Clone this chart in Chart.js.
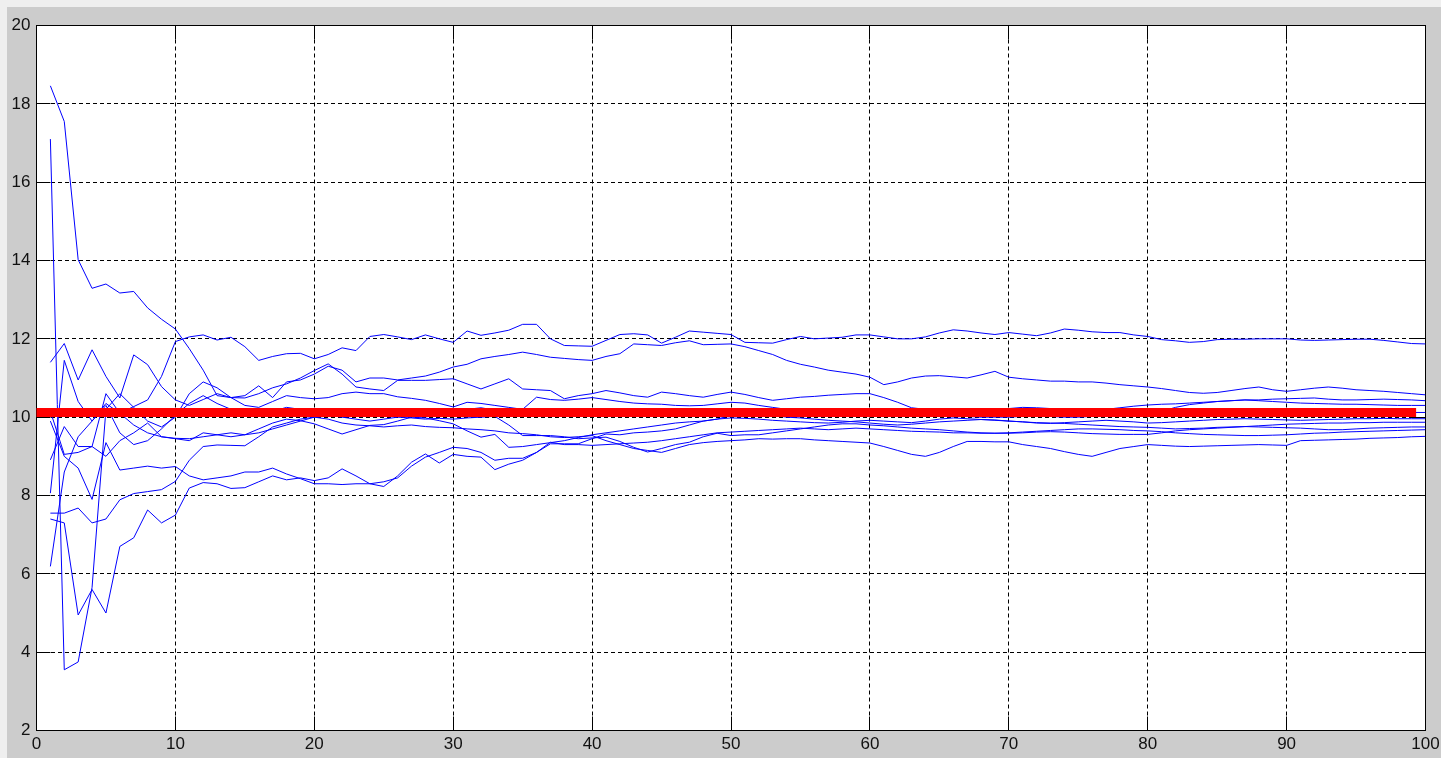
<!DOCTYPE html>
<html>
<head>
<meta charset="utf-8">
<title>Running means of ten sample paths</title>
<script src="https://cdn.jsdelivr.net/npm/chart.js@4.4.1/dist/chart.umd.min.js"></script>
<style>
  html, body { margin: 0; padding: 0; background: #cccccc; overflow: hidden; }
  canvas { display: block; }
</style>
</head>
<body>
<canvas id="c" width="1441" height="758"></canvas>
<script>
// Axis ticks
const xTicks = [0, 10, 20, 30, 40, 50, 60, 70, 80, 90, 100];
const yTicks = [2, 4, 6, 8, 10, 12, 14, 16, 18, 20];

// Running mean of each path, samples 1..100
const run01 = [
  6.19, 8.6, 9.5, 9.9, 10.35, 10.1, 10.27, 10.44, 11.04, 11.93,
  12.05, 12.1, 11.97, 12.04, 11.8, 11.45, 11.55, 11.62, 11.63, 11.49,
  11.6, 11.77, 11.7, 12.06, 12.11, 12.05, 11.98, 12.1, 12.0, 11.91,
  12.2, 12.09, 12.15, 12.22, 12.37, 12.37, 12.0, 11.83, 11.82, 11.81,
  11.96, 12.11, 12.13, 12.1, 11.89, 12.04, 12.2, 12.17, 12.14, 12.11,
  11.91, 11.9, 11.89, 11.98, 12.06, 12.0, 12.02, 12.04, 12.1, 12.1,
  12.05, 12.0, 12.0, 12.05, 12.15, 12.23, 12.2, 12.15, 12.11, 12.16,
  12.12, 12.08, 12.15, 12.25, 12.22, 12.18, 12.16, 12.16, 12.1, 12.06,
  11.98, 11.95, 11.91, 11.93, 11.98, 11.99, 11.99, 12.0, 12.0, 12.0,
  11.97, 11.96, 11.97, 11.98, 11.99, 11.99, 11.96, 11.92, 11.88, 11.87
];
const run02 = [
  18.46, 17.55, 14.02, 13.29, 13.4, 13.17, 13.21, 12.79, 12.5, 12.25,
  11.75, 11.2, 10.55, 10.5, 10.55, 10.8, 10.5, 10.9, 10.95, 11.1,
  11.3, 11.2, 10.9, 11.0, 11.0, 10.95, 11.0, 11.05, 11.15, 11.28,
  11.35, 11.49, 11.55, 11.6, 11.66, 11.6, 11.53, 11.5, 11.47, 11.45,
  11.55, 11.62, 11.87, 11.85, 11.83, 11.9, 11.95, 11.85, 11.86, 11.87,
  11.8, 11.7, 11.6, 11.45, 11.35, 11.28, 11.2, 11.15, 11.1, 11.02,
  10.83, 10.9, 11.0, 11.05, 11.06, 11.03, 11.0, 11.08, 11.17, 11.02,
  10.98, 10.95, 10.92, 10.92, 10.9, 10.9, 10.87, 10.83, 10.8, 10.77,
  10.73, 10.68, 10.63, 10.61, 10.63, 10.68, 10.73, 10.77, 10.7, 10.66,
  10.7, 10.74, 10.77, 10.74, 10.7, 10.68, 10.66, 10.63, 10.6, 10.57
];
const run03 = [
  11.4, 11.88, 10.95, 11.72, 11.04, 10.49, 11.59, 11.34, 10.78, 10.44,
  10.3, 10.45, 10.6, 10.5, 10.49, 10.6, 10.75, 10.85, 11.0, 11.19,
  11.36, 11.1, 10.77, 10.72, 10.68, 10.94, 10.94, 10.94, 10.96, 10.98,
  10.85, 10.72, 10.85, 10.98, 10.72, 10.7, 10.68, 10.47, 10.55, 10.6,
  10.68, 10.62, 10.55, 10.51, 10.64, 10.6, 10.55, 10.51, 10.58, 10.64,
  10.58, 10.5, 10.43, 10.47, 10.51, 10.53, 10.56, 10.58, 10.6, 10.6,
  10.5, 10.38, 10.24, 10.2, 10.15, 10.12, 10.1, 10.08, 10.06, 10.05,
  10.06, 10.04, 10.02, 10.0, 10.0, 10.02, 10.04, 10.05, 10.07, 10.08,
  10.15, 10.25, 10.32, 10.36, 10.4, 10.42, 10.44, 10.44, 10.46, 10.47,
  10.48, 10.49, 10.46, 10.44, 10.44, 10.45, 10.46, 10.45, 10.44, 10.42
];
const run04 = [
  17.1, 3.55, 3.75, 5.65, 10.2, 10.6, 10.25, 9.9, 9.75, 10.0,
  10.6, 10.9, 10.75, 10.5, 10.3, 10.25, 10.4, 10.55, 10.5, 10.47,
  10.5, 10.6, 10.64, 10.6, 10.6, 10.52, 10.48, 10.43, 10.35, 10.26,
  10.38, 10.35, 10.3, 10.25, 10.2, 10.51, 10.45, 10.43, 10.46, 10.5,
  10.45, 10.4, 10.36, 10.34, 10.33, 10.3, 10.29, 10.3, 10.34, 10.38,
  10.36, 10.3, 10.25, 10.2, 10.18, 10.2, 10.22, 10.2, 10.18, 10.15,
  10.12, 10.1, 10.08, 10.05, 10.04, 10.06, 10.08, 10.12, 10.18, 10.22,
  10.25, 10.24, 10.22, 10.2, 10.19, 10.18, 10.2, 10.24, 10.28, 10.31,
  10.33, 10.34, 10.36, 10.38, 10.4, 10.42, 10.44, 10.42, 10.4, 10.38,
  10.36, 10.35, 10.34, 10.33, 10.33, 10.32, 10.31, 10.3, 10.3, 10.3
];
const run05 = [
  8.06, 11.45, 10.4, 9.9, 10.3, 9.6, 9.3, 9.4, 9.7, 10.05,
  10.35, 10.55, 10.35, 10.2, 10.1, 10.05, 10.15, 10.25, 10.2, 10.1,
  10.05, 10.1, 10.15, 10.2, 10.22, 10.18, 10.15, 10.12, 10.14, 10.15,
  10.2, 10.24, 10.18, 10.12, 10.08, 10.05, 10.03, 10.05, 10.04, 10.05,
  10.08, 10.1, 10.12, 10.1, 10.08, 10.06, 10.05, 10.08, 10.1, 10.1,
  10.12, 10.15, 10.18, 10.2, 10.22, 10.2, 10.18, 10.17, 10.16, 10.15,
  10.12, 10.1, 10.08, 10.06, 10.05, 10.04, 10.02, 10.0, 10.0, 10.0,
  10.02, 10.03, 10.05, 10.04, 10.03, 10.02, 10.03, 10.04, 10.05, 10.05,
  10.06, 10.07, 10.08, 10.09, 10.1, 10.12, 10.14, 10.13, 10.12, 10.1,
  10.1, 10.11, 10.12, 10.13, 10.14, 10.13, 10.12, 10.12, 10.12, 10.12
];
const run06 = [
  8.91, 9.76, 9.25, 9.25, 9.0, 9.4, 9.6, 9.85, 9.5, 9.45,
  9.4, 9.6, 9.55, 9.5, 9.55, 9.7, 9.85, 9.95, 9.91, 9.83,
  9.7, 9.57, 9.68, 9.79, 9.81, 9.9, 10.0, 9.98, 9.91, 9.83,
  9.65, 9.49, 9.56, 9.23, 9.25, 9.3, 9.35, 9.4, 9.48, 9.55,
  9.6, 9.65, 9.7, 9.75, 9.8, 9.85, 9.88, 9.9, 9.95, 9.98,
  9.97, 9.95, 9.92, 9.9, 9.88, 9.86, 9.85, 9.87, 9.9, 9.92,
  9.9, 9.88, 9.86, 9.9, 9.95, 9.98, 9.96, 9.94, 9.92, 9.9,
  9.88, 9.85, 9.84, 9.86, 9.88, 9.9, 9.92, 9.9, 9.88, 9.85,
  9.86, 9.88, 9.9, 9.92, 9.94, 9.95, 9.96, 9.95, 9.94, 9.93,
  9.92, 9.93, 9.94, 9.95, 9.96, 9.96, 9.97, 9.96, 9.96, 9.96
];
const run07 = [
  7.55, 7.55, 7.68, 7.3, 7.4, 7.89, 8.05, 8.1, 8.15, 8.36,
  8.9, 9.25, 9.29, 9.28, 9.27, 9.5, 9.75, 9.85, 9.95, 10.0,
  10.05, 10.0, 9.95, 9.9, 9.95, 10.0, 9.98, 9.95, 9.97, 9.95,
  9.98, 10.0, 10.02, 9.8, 9.53, 9.53, 9.53, 9.5, 9.45, 9.47,
  9.49, 9.38, 9.23, 9.11, 9.2, 9.3, 9.36, 9.5, 9.59, 9.53,
  9.55, 9.55, 9.6, 9.65, 9.7, 9.75, 9.8, 9.83, 9.83, 9.8,
  9.78, 9.75, 9.72, 9.7, 9.68, 9.65, 9.62, 9.6, 9.59, 9.59,
  9.6, 9.62, 9.63, 9.62, 9.6, 9.58, 9.57, 9.56, 9.56, 9.56,
  9.6, 9.65, 9.68, 9.7, 9.72, 9.74, 9.76, 9.78, 9.8, 9.82,
  9.83, 9.84, 9.85, 9.85, 9.86, 9.86, 9.87, 9.87, 9.87, 9.87
];
const run08 = [
  7.4, 7.3, 4.95, 5.6, 5.0, 6.7, 6.92, 7.63, 7.3, 7.5,
  8.19, 8.33, 8.3, 8.18, 8.2, 8.35, 8.5, 8.4, 8.45, 8.38,
  8.45, 8.68, 8.5, 8.3, 8.23, 8.5, 8.85, 9.06, 8.83, 9.05,
  9.0, 8.98, 8.66, 8.8, 8.9, 9.1, 9.32, 9.32, 9.32, 9.45,
  9.57, 9.55, 9.6, 9.62, 9.65, 9.7, 9.8, 9.9, 9.95, 10.05,
  10.1, 10.08, 10.05, 10.0, 9.98, 9.95, 9.92, 9.9, 9.88, 9.85,
  9.82, 9.8, 9.82, 9.85, 9.88, 9.9, 9.92, 9.94, 9.93, 9.9,
  9.88, 9.86, 9.85, 9.84, 9.82, 9.8, 9.78, 9.76, 9.75, 9.74,
  9.72, 9.7, 9.71, 9.72, 9.74, 9.75, 9.76, 9.75, 9.74, 9.73,
  9.72, 9.7, 9.68, 9.68, 9.7, 9.72, 9.73, 9.74, 9.75, 9.75
];
const run09 = [
  9.9, 9.0, 8.7, 7.9, 9.35, 8.65, 8.7, 8.75, 8.7, 8.74,
  8.5, 8.4, 8.45, 8.5, 8.6, 8.6, 8.7, 8.55, 8.43, 8.3,
  8.3, 8.28, 8.3, 8.3, 8.35, 8.45, 8.75, 8.98, 9.1, 9.23,
  9.2, 9.1, 8.9, 8.95, 8.95, 9.1, 9.36, 9.3, 9.3, 9.28,
  9.3, 9.32, 9.34, 9.36, 9.4, 9.45, 9.5, 9.55, 9.6, 9.62,
  9.64, 9.66, 9.68, 9.7, 9.72, 9.7, 9.68, 9.7, 9.72, 9.7,
  9.68, 9.66, 9.64, 9.63, 9.62, 9.6, 9.6, 9.59, 9.59, 9.6,
  9.62, 9.64, 9.66, 9.68, 9.7, 9.7, 9.69, 9.68, 9.66, 9.65,
  9.63, 9.6, 9.58, 9.56, 9.55, 9.54, 9.53, 9.53, 9.54, 9.55,
  9.57, 9.59, 9.6, 9.62, 9.63, 9.64, 9.65, 9.66, 9.67, 9.68
];
const run10 = [
  10.15, 9.05, 9.1, 9.25, 10.6, 10.1, 9.8, 9.6, 9.5, 9.46,
  9.45, 9.5, 9.55, 9.6, 9.55, 9.6, 9.7, 9.8, 9.9, 10.0,
  9.95, 9.85, 9.8, 9.78, 9.75, 9.78, 9.8, 9.76, 9.74, 9.73,
  9.7, 9.68, 9.65, 9.6, 9.58, 9.55, 9.5, 9.48, 9.5, 9.53,
  9.4, 9.3, 9.2, 9.15, 9.1, 9.2, 9.3, 9.35, 9.38, 9.4,
  9.42, 9.45, 9.44, 9.45, 9.45, 9.42, 9.4, 9.38, 9.36, 9.34,
  9.25, 9.15, 9.05, 9.0, 9.1, 9.25, 9.38, 9.38, 9.37, 9.37,
  9.3, 9.25, 9.2, 9.12, 9.05, 9.0, 9.1, 9.2, 9.25, 9.3,
  9.28, 9.26, 9.25, 9.26, 9.27, 9.28, 9.29, 9.3, 9.29, 9.28,
  9.4, 9.41, 9.42, 9.43, 9.44, 9.46, 9.47, 9.48, 9.5, 9.51
];

// Reference level drawn across the paths
const meanLevel = 10.12;
const meanSpan = [0, 99];

const runs = [run01, run02, run03, run04, run05, run06, run07, run08, run09, run10];

const toPoints = vals => vals.map((v, i) => ({ x: i + 1, y: v }));

const datasets = [
  {
    label: 'mean',
    data: meanSpan.map(x => ({ x, y: meanLevel })),
    borderColor: '#ff0000',
    borderWidth: 9,
    borderCapStyle: 'square',
    pointRadius: 0,
    clip: 0,
    order: 0
  }
].concat(runs.map((vals, k) => ({
  label: 'path ' + (k + 1),
  data: toPoints(vals),
  borderColor: '#0000ff',
  borderWidth: 1,
  pointRadius: 0,
  tension: 0,
  order: 1
})));

const align = p => Math.round(p - 0.5) + 0.5;

// Grey window, white axes, black box with inward ticks on all four sides
const axesFrame = {
  id: 'axesFrame',
  beforeDraw(chart) {
    const { ctx, width, height, chartArea: a } = chart;
    ctx.save();
    ctx.fillStyle = '#cccccc';
    ctx.fillRect(0, 0, width, height);
    ctx.fillStyle = '#efefef';
    ctx.fillRect(0, 0, width, 7);
    ctx.fillRect(0, 0, 7, height);
    ctx.fillStyle = '#ffffff';
    ctx.fillRect(a.left, a.top, a.right - a.left, a.bottom - a.top);
    ctx.restore();
  },
  beforeDatasetsDraw(chart) {
    const { ctx, chartArea: a, scales } = chart;
    const len = 14;
    ctx.save();
    ctx.strokeStyle = '#000000';
    ctx.lineWidth = 1;
    ctx.beginPath();
    scales.x.ticks.forEach(t => {
      const px = align(scales.x.getPixelForValue(t.value));
      ctx.moveTo(px, a.bottom); ctx.lineTo(px, a.bottom - len);
      ctx.moveTo(px, a.top); ctx.lineTo(px, a.top + len);
    });
    scales.y.ticks.forEach(t => {
      const py = align(scales.y.getPixelForValue(t.value));
      ctx.moveTo(a.left, py); ctx.lineTo(a.left + len, py);
      ctx.moveTo(a.right, py); ctx.lineTo(a.right - len, py);
    });
    ctx.stroke();
    ctx.strokeRect(a.left, a.top, a.right - a.left, a.bottom - a.top);
    ctx.restore();
  }
};

const tickFont = { family: '"Liberation Sans", Arial, Helvetica, sans-serif', size: 17 };

new Chart(document.getElementById('c'), {
  type: 'line',
  data: { datasets },
  options: {
    responsive: false,
    devicePixelRatio: 1,
    animation: false,
    events: [],
    layout: { padding: { top: 25.5, right: 15.5, bottom: 0, left: 0 } },
    plugins: { legend: { display: false }, tooltip: { enabled: false } },
    scales: {
      x: {
        type: 'linear',
        min: 0,
        max: 100,
        afterBuildTicks: s => { s.ticks = xTicks.map(v => ({ value: v })); },
        afterFit: s => { s.height = 27.5; s.paddingLeft = 0; s.paddingRight = 0; },
        grid: { color: '#000000', lineWidth: 1, drawTicks: false },
        border: { display: false, dash: [4, 3] },
        ticks: { font: tickFont, color: '#111111', padding: 4, maxRotation: 0, autoSkip: false }
      },
      y: {
        type: 'linear',
        min: 2,
        max: 20,
        afterBuildTicks: s => { s.ticks = yTicks.map(v => ({ value: v })); },
        afterFit: s => { s.width = 36.5; s.paddingTop = 0; s.paddingBottom = 0; },
        grid: { color: '#000000', lineWidth: 1, drawTicks: false },
        border: { display: false, dash: [4, 3] },
        ticks: { font: tickFont, color: '#111111', padding: 6, autoSkip: false }
      }
    }
  },
  plugins: [axesFrame]
});
</script>
</body>
</html>
